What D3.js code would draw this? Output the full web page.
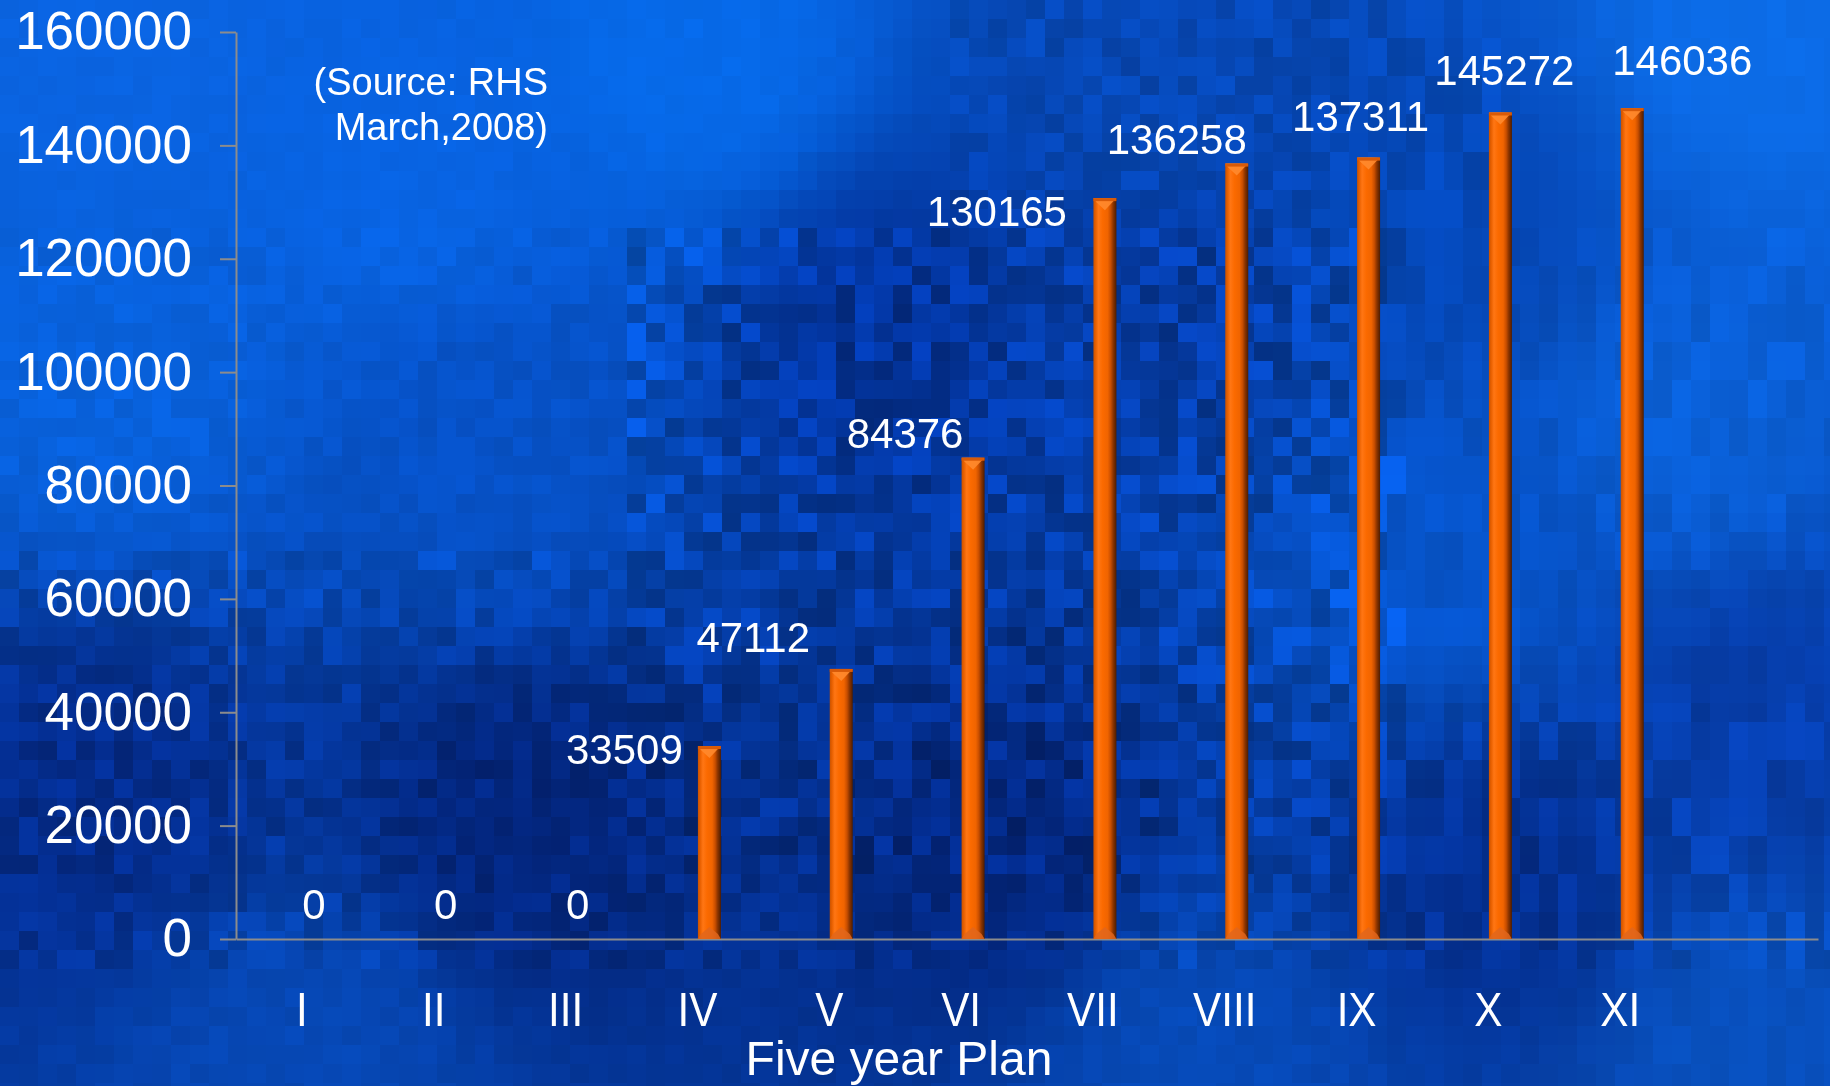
<!DOCTYPE html>
<html>
<head>
<meta charset="utf-8">
<script src="https://cdn.jsdelivr.net/npm/d3@7/dist/d3.min.js"></script>
<style>
  html, body { margin: 0; padding: 0; background: #0650c0; overflow: hidden; }
  #wrap { position: relative; width: 1830px; height: 1086px; }
  #bg, #chart { position: absolute; left: 0; top: 0; }
  text { font-family: "Liberation Sans", Arial, sans-serif; fill: #ffffff; }
</style>
</head>
<body>
<div id="wrap">
  <canvas id="bg" width="1830" height="1086"></canvas>
  <svg id="chart" width="1830" height="1086"></svg>
</div>
<script>
// ---------------- DATA ----------------
const categories = ["I", "II", "III", "IV", "V", "VI", "VII", "VIII", "IX", "X", "XI"];
const values = [0, 0, 0, 33509, 47112, 84376, 130165, 136258, 137311, 145272, 146036];
const yTicks = [0, 20000, 40000, 60000, 80000, 100000, 120000, 140000, 160000];
const xTitle = "Five year Plan";
const sourceLines = ["(Source: RHS", "March,2008)"];

// ---------------- LAYOUT ----------------
const W = 1830, H = 1086;
const plot = { left: 236, right: 1818, top: 32, bottom: 939 };
const barWidth = 23;
const barShift = 12;               // 3D depth offset of the bars
// manual placement of the value labels (px from bar centre / bar top)
const labelDx = [0, 0, 0, -85, -88, -68, -108, -60, -8, 4, 50];
const labelDy = [-35, -35, -35, 0, -35, -27, 10, -27, -44, -45, -51];

// ---------------- BACKGROUND (decorative mosaic) ----------------
(function drawBackground() {
  const ctx = document.getElementById("bg").getContext("2d");
  const anchors = [
    [100, 40, [10, 100, 226]], [700, 60, [6, 106, 234]], [1150, 90, [6, 72, 182]],
    [1760, 40, [12, 108, 232]], [100, 380, [8, 98, 222]], [480, 430, [6, 82, 200]],
    [880, 330, [3, 52, 156]], [1150, 300, [5, 60, 166]], [1700, 420, [10, 96, 216]],
    [1450, 560, [6, 84, 202]], [90, 800, [4, 44, 140]], [520, 830, [3, 38, 126]],
    [1000, 860, [3, 40, 130]], [1500, 880, [4, 48, 146]], [1760, 720, [6, 62, 172]],
    [300, 1050, [6, 72, 182]], [1200, 1050, [6, 74, 184]], [1750, 1050, [8, 80, 190]],
    [400, 180, [8, 100, 228]], [1450, 230, [5, 72, 184]]
  ];
  function hash(i, j) { const n = Math.sin(i * 127.1 + j * 311.7) * 43758.5453; return n - Math.floor(n); }
  const bw = 19, bh = 19;
  for (let j = 0; j * bh < H; j++) {
    for (let i = 0; i * bw < W; i++) {
      const x = i * bw + bw / 2, y = j * bh + bh / 2;
      let sw = 0, r = 0, g = 0, b = 0;
      anchors.forEach(a => {
        const d2 = (x - a[0]) ** 2 + (y - a[1]) ** 2 + 1;
        const w = 1 / Math.pow(d2, 1.6);
        sw += w; r += w * a[2][0]; g += w * a[2][1]; b += w * a[2][2];
      });
      r /= sw; g /= sw; b /= sw;
      let amp;
      if (y < 230) amp = x > 950 && x < 1500 ? 8 : 1.5;
      else if (x > 620 && x < 1400 && y < 880) amp = 16;
      else if (x < 620 && y < 560) amp = 4;
      else if (x >= 1400 && y < 700) amp = 5;
      else if (y < 960) amp = 10;
      else amp = 3;
      // vertically-correlated noise in the right part (elongated blocks)
      const jj = x > 1350 ? Math.floor(j / 2) : j;
      const n = (hash(i, jj) - 0.5) * 2 * amp;
      const f = 1 + n / 100;
      ctx.fillStyle = `rgb(${Math.round(r * f)},${Math.round(g * f + n * 0.3)},${Math.round(b * f + n * 0.8)})`;
      ctx.fillRect(i * bw, j * bh, bw, bh);
    }
  }
})();

// ---------------- CHART ----------------
const svg = d3.select("#chart");

const x = d3.scaleBand()
  .domain(categories.concat([""]))
  .range([plot.left, plot.right])
  .padding(0);

const y = d3.scaleLinear()
  .domain([0, 160000])
  .range([plot.bottom, plot.top]);

const defs = svg.append("defs");
const grad = defs.append("linearGradient").attr("id", "barGrad")
  .attr("x1", "0%").attr("x2", "100%").attr("y1", "0%").attr("y2", "0%");
[["0%", "#c95200"], ["10%", "#e86000"], ["22%", "#ff7614"], ["40%", "#fb6a00"],
 ["62%", "#f06400"], ["75%", "#c84e00"], ["86%", "#8a3400"], ["100%", "#4e1c00"]]
  .forEach(s => grad.append("stop").attr("offset", s[0]).attr("stop-color", s[1]));

// Y axis
const yAxis = d3.axisLeft(y).tickValues(yTicks).tickSize(16).tickSizeOuter(0).tickPadding(28)
  .tickFormat(d3.format("d"));
const gy = svg.append("g").attr("transform", `translate(${plot.left},0)`).call(yAxis);
gy.selectAll("path, line").attr("stroke", "#8c8c8c").attr("stroke-width", 2);
gy.selectAll("text").attr("font-size", 53).attr("fill", "#fff")
  .attr("font-family", "'Liberation Sans', Arial, sans-serif");

// X axis
const xAxis = d3.axisBottom(x).tickSize(0).tickSizeOuter(0).tickPadding(53);
const gx = svg.append("g").attr("transform", `translate(0,${plot.bottom})`).call(xAxis);
gx.select("path").attr("stroke", "#8c8c8c").attr("stroke-width", 2);
gx.selectAll("text").attr("font-size", 48).attr("fill", "#fff")
  .attr("font-family", "'Liberation Sans', Arial, sans-serif")
  .attr("transform", "scale(0.88,1)");

// Bars
const cx = (c) => x(c) + x.bandwidth() / 2 + barShift;
const data = categories.map((c, i) => ({ c, v: values[i], i }));
const bars = svg.append("g").selectAll("g").data(data.filter(d => d.v > 0)).join("g");
bars.append("rect")
  .attr("x", d => cx(d.c) - barWidth / 2)
  .attr("y", d => y(d.v) - 3)
  .attr("width", barWidth)
  .attr("height", d => y(0) - y(d.v) + 3)
  .attr("fill", "url(#barGrad)");
// top bevel (lighter triangle)
bars.append("path")
  .attr("d", d => {
    const l = cx(d.c) - barWidth / 2, r = l + barWidth, t = y(d.v) - 3;
    return `M${l},${t}L${r},${t}L${r - 4},${t + 4}L${l + barWidth / 2},${t + 12}L${l + 3},${t + 4}Z`;
  })
  .attr("fill", "#ff8a2e").attr("opacity", 0.9);
bars.append("rect")
  .attr("x", d => cx(d.c) - barWidth / 2)
  .attr("y", d => y(d.v) - 3)
  .attr("width", barWidth).attr("height", 3)
  .attr("fill", "#d85a08");
// bottom bevel
bars.append("path")
  .attr("d", d => {
    const l = cx(d.c) - barWidth / 2, r = l + barWidth, b = y(0);
    return `M${l},${b}L${r},${b}L${r - 3},${b - 5}L${l + barWidth / 2},${b - 12}L${l + 3},${b - 5}Z`;
  })
  .attr("fill", "#e0661c").attr("opacity", 0.85);

// Value labels
svg.append("g").selectAll("text").data(data).join("text")
  .attr("x", d => cx(d.c) + labelDx[d.i])
  .attr("y", d => y(d.v) + labelDy[d.i])
  .attr("dy", "0.35em")
  .attr("text-anchor", "middle")
  .attr("font-size", 42)
  .text(d => d3.format("d")(d.v));

// Axis title
svg.append("text")
  .attr("x", 899).attr("y", 1075)
  .attr("text-anchor", "middle")
  .attr("font-size", 48)
  .text(xTitle);

// Source note
svg.append("text")
  .attr("text-anchor", "end")
  .attr("font-size", 38)
  .selectAll("tspan").data(sourceLines).join("tspan")
  .attr("x", 548)
  .attr("y", (d, i) => 95 + i * 45)
  .text(d => d);
</script>
</body>
</html>
